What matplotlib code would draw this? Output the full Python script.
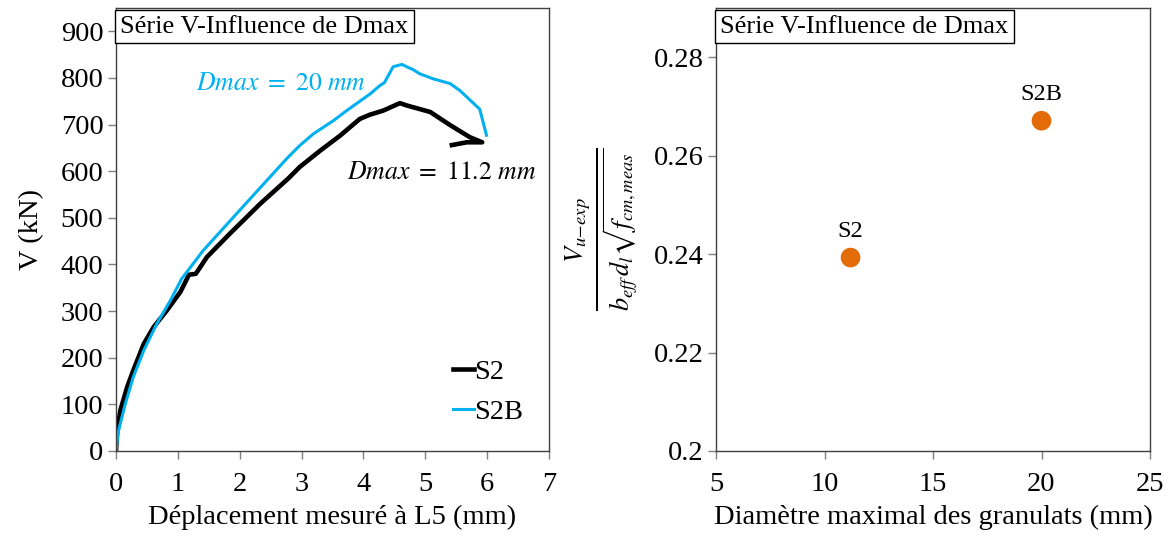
import matplotlib
matplotlib.use("Agg")
import matplotlib.pyplot as plt

# ---- data ----
s2_x = [0.0, 0.02, 0.07, 0.18, 0.28, 0.45, 0.61, 0.82, 1.04, 1.18, 1.29, 1.47, 1.84, 2.33,
        2.79, 2.97, 3.30, 3.62, 3.94, 4.10, 4.32, 4.59, 4.70, 5.08, 5.40, 5.72, 5.92, 5.67, 5.43]
s2_y = [0, 44, 87, 137, 173, 230, 266, 301, 341, 378, 380, 416, 466, 530,
        585, 609, 644, 676, 712, 721, 730, 746, 741, 727, 699, 673, 662, 662, 656]
s2b_x = [0.0, 0.04, 0.15, 0.28, 0.45, 0.66, 0.88, 1.06, 1.41, 1.95, 2.76, 2.97, 3.19, 3.51,
         3.73, 4.11, 4.27, 4.34, 4.48, 4.62, 4.80, 4.91, 5.13, 5.40, 5.56, 5.88, 5.99]
s2b_y = [0, 43, 101, 159, 216, 273, 323, 369, 430, 509, 627, 655, 680, 708,
         730, 766, 784, 790, 824, 829, 818, 809, 798, 788, 773, 733, 677]

dmax = [11.2, 20.0]
ratio = [0.2393, 0.2671]
point_labels = ["S2", "S2B"]

x_ticks_left = [0, 1, 2, 3, 4, 5, 6, 7]
y_ticks_left = [0, 100, 200, 300, 400, 500, 600, 700, 800, 900]
x_ticks_right = [5, 10, 15, 20, 25]
y_ticks_right = [0.2, 0.22, 0.24, 0.26, 0.28]
y_ticklabels_right = ['0.2', '0.22', '0.24', '0.26', '0.28']

plt.rcParams['font.family'] = ['Liberation Serif', 'DejaVu Serif']
plt.rcParams['mathtext.fontset'] = 'stix'

fig = plt.figure(figsize=(11.72, 5.36), dpi=100)
W, H = 1172, 536
ax1 = fig.add_axes([116/W, 1-451/H, (549-116)/W, (451-8)/H])
ax2 = fig.add_axes([716/W, 1-451/H, (1150-716)/W, (451-8)/H])

blue = '#00B0F0'
orange = '#E36C09'

# ---- left chart ----
ax1.plot(s2_x, s2_y, color='black', lw=3.3, label='S2')
ax1.plot(s2b_x, s2b_y, color=blue, lw=2.2, label='S2B')
ax1.set_xlim(0, 7)
ax1.set_ylim(0, 950)
ax1.set_xticks(x_ticks_left)
ax1.set_yticks(y_ticks_left)
ax1.set_xlabel('Déplacement mesuré à L5 (mm)', fontsize=20.5, labelpad=6)
ax1.set_ylabel('V (kN)', fontsize=20.5, labelpad=12)
ax1.text(0.01, 0.983, 'Série V-Influence de Dmax', transform=ax1.transAxes, fontsize=19,
         va='top', ha='left', bbox=dict(boxstyle='square,pad=0.22', fc='white', ec='black', lw=1))
ax1.text(1.30, 788, r'$Dmax\ =\ 20\ mm$', color=blue, fontsize=18.5, ha='left', va='center')
ax1.text(3.74, 597, r'$Dmax\ =\ 11.2\ mm$', color='black', fontsize=18.5, ha='left', va='center')
ax1.legend(loc='lower right', bbox_to_anchor=(1.0, 0.0), frameon=False, fontsize=20.5,
           handlelength=0.75, handletextpad=0.0, labelspacing=0.5)

# ---- right chart ----
ax2.scatter(dmax, ratio, s=200, color=orange, zorder=3, edgecolors='none')
for xx, yy, lab in zip(dmax, ratio, point_labels):
    ax2.annotate(lab, (xx, yy), xytext=(0, 11), textcoords='offset points', ha='center',
                 va='bottom', fontsize=17.5)
ax2.set_xlim(5, 25)
ax2.set_ylim(0.2, 0.29)
ax2.set_xticks(x_ticks_right)
ax2.set_yticks(y_ticks_right)
ax2.set_yticklabels(y_ticklabels_right)
ax2.set_xlabel('Diamètre maximal des granulats (mm)', fontsize=20.5, labelpad=6)
ax2.set_ylabel(r'$\frac{V_{u\!-\!exp}}{b_{eff}\,d_l\sqrt{f_{cm,meas}}}$', fontsize=27, labelpad=10)
ax2.text(0.01, 0.983, 'Série V-Influence de Dmax', transform=ax2.transAxes, fontsize=19,
         va='top', ha='left', bbox=dict(boxstyle='square,pad=0.22', fc='white', ec='black', lw=1))

for ax in (ax1, ax2):
    ax.tick_params(direction='out', length=6, width=1, color='#808080', labelsize=20.5)
    ax.tick_params(axis='x', pad=9)
    ax.tick_params(axis='y', pad=3)
    for sp in ax.spines.values():
        sp.set_color('#404040')
        sp.set_linewidth(1)

fig.savefig('out.png', dpi=100)
